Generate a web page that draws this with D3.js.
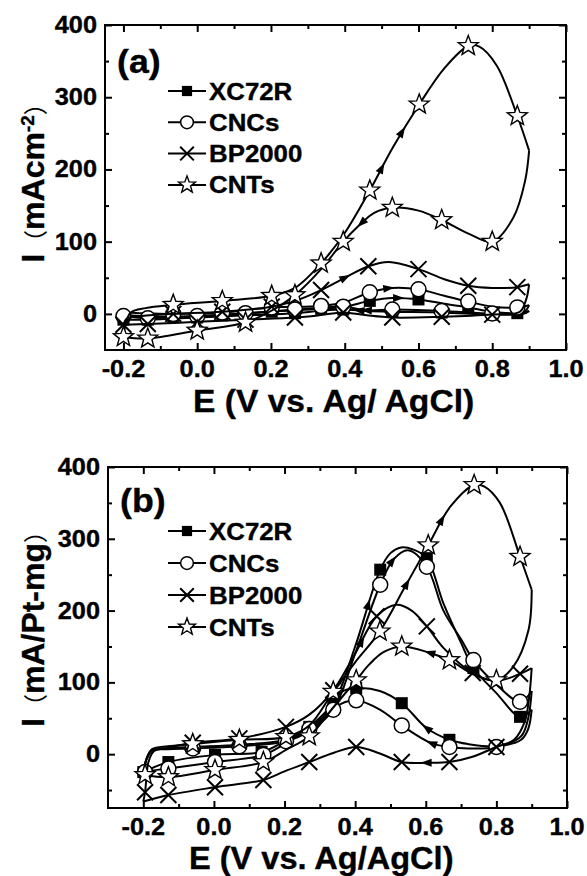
<!DOCTYPE html>
<html><head><meta charset="utf-8">
<script src="https://cdn.jsdelivr.net/npm/d3@7"></script>
<style>body{margin:0;background:#fff}svg{display:block}</style>
</head><body>
<svg id="c" width="587" height="876"></svg>
<script>
// ---------------- DATA ----------------
const seriesNames = ["XC72R", "CNCs", "BP2000", "CNTs"];
const seriesMarkers = ["square", "circle", "cross", "star"];
const xTickValues = [-0.2, 0.0, 0.2, 0.4, 0.6, 0.8, 1.0];
const xTickLabels = ["-0.2", "0.0", "0.2", "0.4", "0.6", "0.8", "1.0"];
const yTickValues = [0, 100, 200, 300, 400];
const yTickLabels = ["0", "100", "200", "300", "400"];
const xDomainA = [-0.25, 1.0], yDomainA = [-50, 400];
const xDomainB = [-0.3, 1.0], yDomainB = [-75, 400];

// Panel (a): points [E (V), I (mA cm^-2), marker flag]
const aXC72R_fwd = [[-0.2,-8,0],[-0.19,-3,0],[-0.15,-3,0],[-0.065,-4,1],[0.068,-2,1],[0.202,3,1],[0.336,7,1],[0.40,10,0],[0.468,18,1],[0.53,22,0],[0.6,20,1],[0.67,14,0],[0.735,9,1],[0.8,3,0],[0.868,1,1],[0.9,4,0]];
const aXC72R_rev = [[0.9,4,0],[0.885,0,0],[0.8,-1,1],[0.663,2,1],[0.529,3,1],[0.46,4,0],[0.396,6,1],[0.33,4,0],[0.265,1,1],[0.131,-2,1],[0.0,-5,1],[-0.134,-8,1],[-0.2,-8,1]];
const aCNCs_fwd = [[-0.2,-3,0],[-0.19,1,0],[-0.15,1,0],[-0.065,0,1],[0.068,2,1],[0.202,9,1],[0.336,11,1],[0.40,16,0],[0.468,30,1],[0.53,36,0],[0.6,34,1],[0.67,25,0],[0.735,17,1],[0.8,10,0],[0.868,9,1],[0.9,12,0]];
const aCNCs_rev = [[0.9,12,0],[0.89,4,0],[0.868,1,0],[0.8,0.5,1],[0.663,4,1],[0.529,6,1],[0.46,5,0],[0.396,10,1],[0.33,8,0],[0.265,6,1],[0.131,1,1],[0.0,-3,1],[-0.134,-6,1],[-0.2,-3,1]];
const aBP2000_fwd = [[-0.2,-15,0],[-0.19,-6,0],[-0.15,-3,0],[-0.065,0,1],[0.068,3,1],[0.202,10,1],[0.265,18,0],[0.336,33,1],[0.40,50,0],[0.464,66,1],[0.52,72,0],[0.6,62,1],[0.67,48,0],[0.735,39,1],[0.8,36,0],[0.868,37,1],[0.9,41,0]];
const aBP2000_rev = [[0.9,41,0],[0.892,20,0],[0.875,3,0],[0.8,-1,1],[0.663,-4,1],[0.529,-5,1],[0.46,-2,0],[0.396,2,1],[0.33,-2,0],[0.265,-5,1],[0.131,-8,1],[0.0,-11,1],[-0.134,-14,1],[-0.2,-15,1]];
const aCNTs_fwd = [[-0.2,-32,0],[-0.193,-12,0],[-0.18,2,0],[-0.14,8,0],[-0.065,12.5,1],[0.068,18,1],[0.202,25,1],[0.265,36,0],[0.336,70,1],[0.40,112,0],[0.468,171,1],[0.53,230,0],[0.602,290,1],[0.67,340,0],[0.735,371,1],[0.765,370,0],[0.812,344,0],[0.868,274,1],[0.9,226,0]];
const aCNTs_rev = [[0.9,226,0],[0.889,184,0],[0.857,133,0],[0.8,100,1],[0.74,110,0],[0.663,130,1],[0.6,143,0],[0.529,147,1],[0.48,140,0],[0.44,123,0],[0.396,100,1],[0.336,62,0],[0.265,26,1],[0.2,4,0],[0.131,-12,1],[0.0,-23,1],[-0.134,-34,1],[-0.2,-32,1]];
// arrows: [series index, branch, E]
const aArrows = [[3,"fwd",0.50],[3,"fwd",0.555],[3,"rev",0.446],[2,"fwd",0.40],[1,"fwd",0.518],[0,"fwd",0.545],[1,"rev",0.46],[0,"rev",0.44]];

// Panel (b): points [E (V), I (mA/Pt-mg), marker flag]
const bXC72R_fwd = [[-0.2,-25,0],[-0.19,-6,0],[-0.175,5,0],[-0.13,8,0],[-0.06,10,1],[0.072,13,1],[0.204,20,1],[0.27,35,0],[0.338,70,1],[0.40,150,0],[0.471,257,1],[0.5,280,0],[0.53,288,0],[0.565,285,0],[0.603,273,1],[0.65,210,0],[0.7,155,0],[0.735,120,1],[0.8,85,0],[0.867,52,1],[0.9,62,0]];
const bXC72R_rev = [[0.9,62,0],[0.89,35,0],[0.87,20,0],[0.8,11,1],[0.72,14,0],[0.667,20,1],[0.603,36,0],[0.532,71,1],[0.47,88,0],[0.403,92,1],[0.36,86,0],[0.33,66,0],[0.27,38,1],[0.2,18,0],[0.135,3,1],[0.003,-1,1],[-0.129,-11,1],[-0.2,-25,1]];
const bCNCs_fwd = [[-0.2,-28,0],[-0.19,-6,0],[-0.175,5,0],[-0.13,7,0],[-0.06,8,1],[0.072,11,1],[0.204,18,1],[0.27,32,0],[0.338,62,1],[0.40,140,0],[0.471,236,1],[0.51,272,0],[0.55,284,0],[0.603,261,1],[0.65,200,0],[0.7,160,0],[0.735,131,1],[0.8,97,0],[0.867,73,1],[0.9,88,0]];
const bCNCs_rev = [[0.9,88,0],[0.89,50,0],[0.87,25,0],[0.8,10,1],[0.72,8,0],[0.667,10,1],[0.617,15,0],[0.532,40,1],[0.47,62,0],[0.403,75,1],[0.36,70,0],[0.3,45,0],[0.27,35,1],[0.2,14,0],[0.14,-1,1],[0.003,-11,1],[-0.129,-20,1],[-0.195,-25,1],[-0.2,-28,0]];
const bBP2000_fwd = [[-0.2,-66,0],[-0.195,-53,1],[-0.185,-10,0],[-0.17,4,0],[-0.13,9,0],[-0.06,16,1],[0.072,22,1],[0.204,38,1],[0.27,55,0],[0.338,89,1],[0.40,140,0],[0.461,192,1],[0.517,208,0],[0.56,200,0],[0.603,178,1],[0.65,148,0],[0.733,113,1],[0.8,102,0],[0.867,112,1],[0.9,120,0]];
const bBP2000_rev = [[0.9,120,0],[0.893,80,0],[0.88,45,0],[0.85,20,0],[0.8,10,1],[0.73,-4,0],[0.667,-11,1],[0.603,-12,0],[0.532,-11,1],[0.47,1,0],[0.403,10,1],[0.34,2,0],[0.27,-11,1],[0.2,-24,0],[0.14,-36,1],[0.003,-46,1],[-0.129,-57,1],[-0.2,-66,0]];
const bCNTs_fwd = [[-0.2,-29,0],[-0.19,-5,0],[-0.175,7,0],[-0.13,11,0],[-0.06,14,1],[0.072,20,1],[0.204,24,1],[0.27,40,0],[0.338,87,1],[0.40,128,0],[0.47,171,1],[0.54,232,0],[0.607,291,1],[0.67,345,0],[0.737,375,1],[0.765,373,0],[0.81,350,0],[0.867,275,1],[0.9,229,0]];
const bCNTs_rev = [[0.9,229,0],[0.891,173,0],[0.848,122,0],[0.8,103,1],[0.74,110,0],[0.667,131,1],[0.612,141,0],[0.532,150,1],[0.48,142,0],[0.44,125,0],[0.403,103,1],[0.338,65,0],[0.27,25,1],[0.204,6,0],[0.14,-11,1],[0.003,-22,1],[-0.129,-32,1],[-0.195,-29,1]];
const bArrows = [[3,"fwd",0.645],[3,"fwd",0.546],[3,"rev",0.612],[0,"fwd",0.437],[1,"fwd",0.505],[2,"fwd",0.418],[0,"rev",0.603],[1,"rev",0.617],[2,"rev",0.603]];

// ---------------- DRAWING ----------------
const FONT = "'Liberation Sans', Arial, Helvetica, sans-serif";
const CJK = "'Noto Sans CJK SC', 'Noto Sans', sans-serif";
const svg = d3.select("#c");

function starPath(R, r) {
  const p = [];
  for (let i = 0; i < 10; i++) {
    const a = -Math.PI / 2 + i * Math.PI / 5, rr = i % 2 ? r : R;
    p.push([(rr * Math.cos(a)).toFixed(2), (rr * Math.sin(a)).toFixed(2)]);
  }
  return "M" + p.map(d => d.join(",")).join("L") + "Z";
}
function drawMarker(g, type, x, y, s) {
  if (type === "square") g.append("rect").attr("x", x - 6 * s).attr("y", y - 6 * s).attr("width", 12 * s).attr("height", 12 * s).attr("fill", "#000");
  else if (type === "circle") g.append("circle").attr("cx", x).attr("cy", y).attr("r", 7.5 * s).attr("fill", "#fff").attr("stroke", "#000").attr("stroke-width", 1.5);
  else if (type === "cross") g.append("path").attr("d", `M${x-8*s},${y-8*s}L${x+8*s},${y+8*s}M${x-8*s},${y+8*s}L${x+8*s},${y-8*s}`).attr("stroke", "#000").attr("stroke-width", 2).attr("fill", "none");
  else if (type === "star") g.append("path").attr("d", starPath(10.5 * s, 4.4 * s)).attr("transform", `translate(${x},${y})`).attr("fill", "#fff").attr("stroke", "#000").attr("stroke-width", 1.4);
}

function hText(g, x, y, str, size, sx, anchor) {
  return g.append("text").attr("transform", `translate(${x},${y}) scale(${sx},1)`)
    .attr("font-family", FONT).attr("font-weight", "bold").attr("font-size", size)
    .attr("text-anchor", anchor || "start").attr("fill", "#000")
    .attr("stroke", "#000").attr("stroke-width", 0.35).text(str);
}

function drawPanel(cfg) {
  const g = svg.append("g");
  const x = d3.scaleLinear().domain(cfg.xDom).range([cfg.left, cfg.right]);
  const y = d3.scaleLinear().domain(cfg.yDom).range([cfg.bottom, cfg.top]);
  const xMinor = d3.range(-0.3, 1.01, 0.1).map(v => +v.toFixed(1)).filter(v => v > cfg.xDom[0] && v < cfg.xDom[1] && !xTickValues.some(t => Math.abs(t - v) < 1e-6));
  const yMinor = d3.range(-50, 401, 100).filter(v => v > cfg.yDom[0] && v < cfg.yDom[1]);

  // axes (ticks inward on all four sides)
  const ax = [
    [d3.axisBottom(x).tickValues(xTickValues).tickSize(-7), `translate(0,${cfg.bottom})`],
    [d3.axisBottom(x).tickValues(xMinor).tickSize(-4), `translate(0,${cfg.bottom})`],
    [d3.axisTop(x).tickValues(xTickValues).tickSize(-7), `translate(0,${cfg.top})`],
    [d3.axisTop(x).tickValues(xMinor).tickSize(-4), `translate(0,${cfg.top})`],
    [d3.axisLeft(y).tickValues(yTickValues).tickSize(-7), `translate(${cfg.left},0)`],
    [d3.axisLeft(y).tickValues(yMinor).tickSize(-4), `translate(${cfg.left},0)`],
    [d3.axisRight(y).tickValues(yTickValues).tickSize(-7), `translate(${cfg.right},0)`],
    [d3.axisRight(y).tickValues(yMinor).tickSize(-4), `translate(${cfg.right},0)`]
  ];
  ax.forEach(([a, tr]) => {
    const ag = g.append("g").attr("transform", tr).call(a.tickFormat(""));
    ag.select(".domain").remove();
    ag.selectAll(".tick line").attr("stroke", "#000").attr("stroke-width", 2);
    ag.selectAll("text").remove();
  });
  g.append("rect").attr("x", cfg.left).attr("y", cfg.top).attr("width", cfg.right - cfg.left).attr("height", cfg.bottom - cfg.top)
    .attr("fill", "none").attr("stroke", "#000").attr("stroke-width", 2);

  // tick labels
  xTickValues.forEach((v, i) => hText(g, x(v), cfg.bottom + cfg.xLabDy, xTickLabels[i], 23, 1.1, "middle"));
  yTickValues.forEach((v, i) => hText(g, cfg.left - 8, y(v) + 8, yTickLabels[i], 23, 1.1, "end"));

  // curves
  const line = d3.line().x(d => x(d[0])).y(d => y(d[1])).curve(d3.curveCatmullRom.alpha(0.5));
  const paths = [];
  cfg.series.forEach((s, si) => {
    const sg = g.append("g");
    const p = {};
    ["fwd", "rev"].forEach(b => {
      p[b] = sg.append("path").attr("d", line(s[b])).attr("fill", "none").attr("stroke", "#000").attr("stroke-width", 2).attr("stroke-linejoin", "round");
    });
    paths.push(p);
    s.fwd.concat(s.rev).filter(d => d[2]).forEach(d => drawMarker(sg, seriesMarkers[si], x(d[0]), y(d[1]), 1));
  });

  // arrows along curves
  cfg.arrows.forEach(([si, b, E]) => {
    const node = paths[si][b].node(), L = node.getTotalLength(), tx = x(E);
    let best = 0, bd = 1e9;
    for (let l = 0; l <= L; l += 0.5) { const pt = node.getPointAtLength(l); const dd = Math.abs(pt.x - tx); if (dd < bd) { bd = dd; best = l; } }
    const p0 = node.getPointAtLength(Math.max(0, best - 2)), p1 = node.getPointAtLength(Math.min(L, best + 2)), pc = node.getPointAtLength(best);
    const ang = Math.atan2(p1.y - p0.y, p1.x - p0.x) * 180 / Math.PI;
    g.append("path").attr("d", "M6,0L-5,-4L-5,4Z").attr("fill", "#000")
      .attr("transform", `translate(${pc.x},${pc.y}) rotate(${ang})`);
  });

  // legend
  seriesNames.forEach((n, i) => {
    const ly = cfg.legY + i * cfg.legStep;
    g.append("line").attr("x1", 168).attr("x2", 206).attr("y1", ly).attr("y2", ly).attr("stroke", "#000").attr("stroke-width", 2);
    drawMarker(g, seriesMarkers[i], 187, ly, 0.85);
    hText(g, 209, ly + 8.5, n, 23.5, 1.1, "start");
  });

  // panel label
  hText(g, cfg.left + 12, cfg.labY, cfg.label, 34, 1.05, "start");

  // x title
  hText(g, cfg.xTitleX, cfg.xTitleY, cfg.xTitle, cfg.xTitleSize, 1.05, "start");

  // y title (rotated)
  const t = g.append("text").attr("transform", `translate(44,${cfg.yTitleC}) rotate(-90)`)
    .attr("text-anchor", "middle").attr("font-family", FONT).attr("font-weight", "bold").attr("font-size", 32)
    .attr("stroke", "#000").attr("stroke-width", 0.35);
  t.append("tspan").text("I");
  t.append("tspan").attr("font-family", CJK).attr("font-weight", "normal").attr("stroke-width", 0).attr("font-size", 24).text("（");
  t.append("tspan").text(cfg.yUnit);
  if (cfg.ySup) {
    t.append("tspan").attr("font-size", 19).attr("dy", -10).text(cfg.ySup);
    t.append("tspan").attr("dy", 10).attr("font-family", CJK).attr("font-weight", "normal").attr("stroke-width", 0).attr("font-size", 24).text("）");
  } else {
    t.append("tspan").attr("font-family", CJK).attr("font-weight", "normal").attr("stroke-width", 0).attr("font-size", 24).text("）");
  }
}

drawPanel({
  left: 105, right: 566, top: 25, bottom: 350, xDom: xDomainA, yDom: yDomainA,
  xLabDy: 27, label: "(a)", labY: 73,
  series: [{fwd: aXC72R_fwd, rev: aXC72R_rev}, {fwd: aCNCs_fwd, rev: aCNCs_rev}, {fwd: aBP2000_fwd, rev: aBP2000_rev}, {fwd: aCNTs_fwd, rev: aCNTs_rev}],
  arrows: aArrows, legY: 91, legStep: 31.3,
  xTitle: "E (V vs. Ag/ AgCl)", xTitleX: 193, xTitleY: 412, xTitleSize: 32,
  yTitleC: 177, yUnit: "mAcm", ySup: "-2"
});
drawPanel({
  left: 108, right: 567, top: 467, bottom: 808, xDom: xDomainB, yDom: yDomainB,
  xLabDy: 27, label: "(b)", labY: 512,
  series: [{fwd: bXC72R_fwd, rev: bXC72R_rev}, {fwd: bCNCs_fwd, rev: bCNCs_rev}, {fwd: bBP2000_fwd, rev: bBP2000_rev}, {fwd: bCNTs_fwd, rev: bCNTs_rev}],
  arrows: bArrows, legY: 531, legStep: 32,
  xTitle: "E (V vs. Ag/AgCl)", xTitleX: 189, xTitleY: 869, xTitleSize: 31,
  yTitleC: 623, yUnit: "mA/Pt-mg", ySup: null
});
</script>
</body></html>
